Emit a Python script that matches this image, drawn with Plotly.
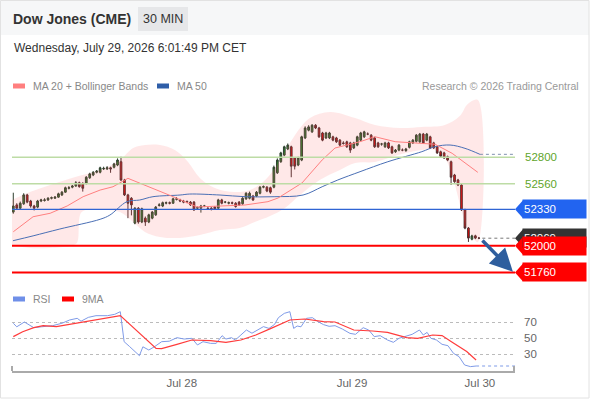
import plotly.graph_objects as go

W, H = 590, 400
def fx(p):  # pixel -> paper x
    return p / W
def fy(p):  # pixel -> paper y
    return 1 - p / H

# ---------------- data ----------------
candle_idx = list(range(1, 136))
opens = [52305,52370,52340,52380,52460,52405,52360,52350,52405,52410,
         52415,52430,52430,52440,52460,52485,52520,52530,52540,52570,
         52560,52565,52615,52640,52665,52665,52695,52695,52705,52710,
         52730,52760,52595,52460,52430,52205,52340,52215,52250,52215,
         52250,52280,52365,52360,52385,52390,52385,52420,52415,52405,
         52400,52395,52395,52340,52340,52360,52340,52340,52350,52340,
         52415,52395,52385,52390,52385,52395,52380,52425,52430,52450,
         52450,52475,52530,52530,52525,52530,52660,52760,52820,52875,
         52895,52795,52730,52775,52975,53045,53030,53090,53065,53020,
         52975,52975,52985,52975,52955,52930,52940,52930,52885,52910,
         52955,52985,53010,53000,52975,52930,52920,52895,52930,52895,
         52850,52865,52865,52860,52890,52930,52945,52940,53010,52955,
         52985,52930,52895,52850,52840,52805,52760,52640,52595,52550,
         52325,52160,52060,52090,52070]
closes = [52360,52340,52385,52460,52395,52360,52340,52405,52415,52415,
          52430,52435,52440,52470,52485,52525,52525,52540,52570,52535,
          52520,52620,52650,52665,52675,52705,52700,52705,52695,52740,
          52775,52595,52460,52385,52370,52340,52215,52335,52215,52280,
          52305,52350,52370,52390,52390,52385,52425,52425,52405,52395,
          52395,52370,52325,52345,52360,52360,52335,52330,52335,52415,
          52385,52395,52390,52385,52355,52370,52430,52475,52475,52415,
          52485,52530,52535,52495,52485,52710,52775,52840,52895,52910,
          52720,52720,52795,52985,53065,53075,53090,53065,52985,52955,
          53020,53020,52955,52940,52910,52925,52895,52865,52930,52985,
          53020,53030,53010,52955,52895,52895,52920,52930,52885,52840,
          52865,52910,52865,52875,52940,52955,53000,53010,52930,53010,
          52885,52885,52840,52810,52795,52775,52620,52580,52550,52325,
          52160,52070,52090,52070,52069]
highs = [52480,52385,52400,52475,52470,52415,52370,52415,52425,52430,
         52440,52445,52450,52480,52495,52535,52540,52550,52585,52580,
         52575,52630,52660,52675,52685,52715,52715,52720,52715,52750,
         52790,52805,52605,52470,52440,52350,52350,52345,52265,52290,
         52315,52360,52385,52400,52400,52400,52435,52440,52425,52415,
         52410,52405,52405,52355,52370,52370,52350,52350,52360,52425,
         52425,52405,52400,52400,52395,52405,52440,52485,52490,52460,
         52495,52540,52545,52540,52535,52725,52790,52850,52905,52925,
         52905,52800,52805,52995,53080,53090,53100,53100,53075,53030,
         53030,53030,52995,52985,52965,52945,52950,52940,52940,52995,
         53030,53040,53025,53010,52985,52940,52930,52940,52940,52905,
         52875,52920,52880,52885,52950,52965,53010,53020,53020,53020,
         52995,52940,52905,52860,52850,52815,52770,52650,52605,52560,
         52335,52170,52100,52100,52080]
lows = [52290,52325,52330,52370,52385,52345,52320,52340,52395,52400,
        52405,52420,52425,52435,52450,52480,52510,52520,52535,52525,
        52490,52555,52605,52630,52655,52655,52685,52685,52660,52700,
        52720,52585,52450,52250,52275,52195,52200,52205,52180,52205,
        52240,52270,52355,52350,52375,52375,52380,52410,52395,52385,
        52385,52360,52315,52330,52300,52350,52325,52320,52325,52330,
        52375,52385,52375,52375,52345,52360,52370,52415,52420,52405,
        52440,52465,52520,52485,52470,52520,52650,52750,52810,52865,
        52620,52690,52720,52765,52965,53035,53020,53055,52975,52945,
        52965,52965,52945,52930,52900,52915,52885,52840,52875,52900,
        52945,52975,53000,52945,52885,52885,52905,52885,52875,52830,
        52840,52855,52855,52850,52880,52920,52935,52930,52920,52945,
        52875,52875,52830,52800,52785,52765,52550,52570,52540,52315,
        52150,52035,52050,52060,52060]

ma20_idx = [1, 6.7, 11.6, 16.5, 21.1, 26.0, 29.7, 34.0, 47.0, 53.9, 67.7, 74.3, 77.2,
            84.1, 89.9, 93.6, 100.8, 105.1, 110.9, 118.6, 122.4, 127.3, 131.0, 134.7]
ma20_val = [52127, 52263, 52294, 52360, 52444, 52504, 52534, 52610, 52444, 52351, 52369,
            52399, 52432, 52568, 52776, 52884, 52941, 52986, 52941, 52927, 52918, 52836,
            52746, 52664]

ma50_idx = [0.9, 6.7, 14.4, 26.0, 28.8, 33.7, 37.4, 41.2, 49.0, 51.8, 60.5, 67.7, 76.3,
            84.4, 89.9, 94.4, 100.8, 108.8, 118.6, 122.4, 126.7, 131.0, 135.3]
ma50_val = [52046, 52090, 52152, 52240, 52278, 52399, 52414, 52444, 52459, 52468, 52459,
            52444, 52444, 52459, 52534, 52595, 52670, 52760, 52851, 52896, 52911, 52881,
            52827]

bb_up_idx = [0.6, 5.8, 11.6, 18.8, 26.0, 31.7, 35.5, 38.9, 43.2, 47.5, 51.3, 54.7, 59.0,
             64.8, 69.1, 73.5, 77.8, 82.1, 86.4, 92.2, 99.4, 105.1, 112.3, 118.6, 125.2,
             129.5, 131.8, 134.7]
bb_up_val = [52414, 52486, 52550, 52622, 52685, 52776, 52884, 52911, 52911, 52866, 52758,
             52613, 52523, 52486, 52504, 52595, 52776, 53002, 53155, 53210, 53155, 53092,
             53065, 53074, 53092, 53173, 53282, 53318]
bb_lo_idx = [0.6, 5.8, 11.6, 17.3, 19.3, 20.7, 26.0, 31.7, 35.5, 38.9, 43.2, 49.0, 54.7,
             60.5, 66.2, 70.5, 74.9, 79.2, 83.5, 89.2, 95.0, 99.4, 105.1, 111.7, 118.6,
             122.4, 125.2, 127.3, 131.0, 133.0, 134.7]
bb_lo_val = [52007, 51980, 51980, 51998, 52025, 52306, 52324, 52306, 52215, 52125, 52080,
             52071, 52098, 52143, 52161, 52215, 52269, 52342, 52459, 52595, 52685, 52749,
             52758, 52821, 52866, 52866, 52794, 52640, 52215, 52089, 52034]

rsi_idx = [1.0, 2.0, 4.2, 6.9, 9.1, 12.3, 15.0, 17.2, 19.4, 20.5, 22.6, 24.8, 28.1, 30.2,
           31.8, 32.9, 34.5, 37.3, 38.3, 40.0, 41.6, 43.7, 45.9, 48.1, 50.2, 52.4, 54.0,
           55.6, 57.8, 59.4, 61.1, 62.2, 63.8, 64.9, 66.5, 68.1, 69.7, 71.4, 73.0, 74.6,
           76.2, 77.3, 79.0, 80.6, 81.7, 82.7, 83.8, 85.4, 87.1, 88.7, 90.3, 91.9, 93.6,
           95.7, 97.9, 99.5, 101.7, 103.3, 104.9, 106.6, 108.7, 110.4, 112.0, 113.6,
           115.8, 117.9, 119.0, 120.1, 121.2, 122.8, 124.4, 126.1, 127.7, 129.3, 130.9,
           132.6, 134.2]
rsi_val = [68.4, 64, 70, 62.9, 64, 65.4, 68.4, 72.5, 74.6, 71, 75.8, 77.9, 77.9, 79.6,
           82.9, 45.4, 39.2, 27.9, 39, 35, 39, 45.4, 46, 50.4, 48.7, 49.6, 41.3, 45.4,
           43.3, 43.3, 52.9, 48.7, 50.4, 47.5, 53.75, 60, 56, 60, 64.2, 62, 67, 75.4,
           80.8, 82.9, 62, 65, 64, 74.6, 75.4, 70.4, 66.7, 64.6, 65.4, 61.25, 55.8, 54.6,
           62.9, 60, 51.7, 52.9, 47.5, 44.6, 49.6, 51.7, 54.6, 60, 53.75, 57, 49.6, 47.5,
           42.1, 40.4, 30.8, 26.7, 16.25, 14.2, 15]
ma9_idx = [1.0, 3.7, 6.9, 9.6, 13.4, 18.8, 24.3, 28.6, 31.8, 42.1, 43.7, 48.1, 52.4, 57.8,
           62.2, 66.5, 70.8, 75.2, 80.6, 84.9, 90.3, 93.6, 99.0, 104.4, 108.7, 114.2,
           117.4, 121.7, 124.4, 127.1, 131.5, 134.2]
ma9_val = [51.7, 57.9, 62.9, 65.4, 64.2, 68.4, 72.5, 75.4, 77.9, 37.1, 36.7, 42.1, 47.5,
           46.7, 44.6, 47.5, 53.75, 62, 72.5, 73.75, 70.4, 70, 60, 58.75, 57.1, 50.4, 49.6,
           53.75, 53, 45.4, 33, 22.5]

res_levels = [52800, 52560]
pivot_level = 52330
sup_levels = [52000, 51760]
last_price = 52069
target_price = 51766
rsi_levels = [30, 50, 70]
tick_pos = [49.5, 98.5, 135.3]
tick_labels = ["Jul 28", "Jul 29", "Jul 30"]

X_RANGE = [0.63, 145.4]
Y_RANGE = [51664, 53345]
RSI_RANGE = [8.75, 91.25]

FONT = "Liberation Sans, Arial, sans-serif"

fig = go.Figure()

# Bollinger band
fig.add_trace(go.Scatter(
    x=bb_up_idx + bb_lo_idx[::-1], y=bb_up_val + bb_lo_val[::-1],
    fill="toself", fillcolor="rgba(255,90,90,0.14)", line=dict(width=0, shape="spline"),
    mode="lines", hoverinfo="skip", xaxis="x", yaxis="y"))
fig.add_trace(go.Scatter(x=ma50_idx, y=ma50_val, mode="lines",
                         line=dict(color="#4a6fb5", width=1, shape="spline"),
                         hoverinfo="skip", xaxis="x", yaxis="y"))
fig.add_trace(go.Scatter(x=ma20_idx, y=ma20_val, mode="lines",
                         line=dict(color="#ff8080", width=1),
                         hoverinfo="skip", xaxis="x", yaxis="y"))
fig.add_trace(go.Candlestick(
    x=candle_idx, open=opens, high=highs, low=lows, close=closes,
    increasing=dict(fillcolor="#2e8b2e", line=dict(color="#2f3f2f", width=1)),
    decreasing=dict(fillcolor="#e60000", line=dict(color="#4a3030", width=1)),
    whiskerwidth=0, hoverinfo="skip", xaxis="x", yaxis="y"))

# RSI panel
fig.add_trace(go.Scatter(x=rsi_idx, y=rsi_val, mode="lines",
                         line=dict(color="#7f9be8", width=1),
                         hoverinfo="skip", xaxis="x2", yaxis="y2"))
fig.add_trace(go.Scatter(x=ma9_idx, y=ma9_val, mode="lines",
                         line=dict(color="#ff3b3b", width=1.2),
                         hoverinfo="skip", xaxis="x2", yaxis="y2"))

shapes = []
ann = []

# header band + outer border
shapes.append(dict(type="rect", xref="paper", yref="paper", x0=0, x1=fx(589),
                   y0=fy(35), y1=1, fillcolor="#f6f7f8", line=dict(width=0), layer="below"))
shapes.append(dict(type="rect", xref="paper", yref="paper", x0=fx(0.5), x1=fx(589),
                   y0=fy(398), y1=fy(0.5), line=dict(color="#e2e2e2", width=1)))

# level lines
for lv in res_levels:
    shapes.append(dict(type="line", xref="paper", yref="y", x0=fx(12), x1=fx(515),
                       y0=lv, y1=lv, line=dict(color="#bddca5", width=1.5)))
shapes.append(dict(type="line", xref="paper", yref="y", x0=fx(12), x1=fx(515),
                   y0=pivot_level, y1=pivot_level, line=dict(color="#2f64d4", width=1.3)))
for lv in sup_levels:
    shapes.append(dict(type="line", xref="paper", yref="y", x0=fx(12), x1=fx(515),
                       y0=lv, y1=lv, line=dict(color="#ff0000", width=2)))

# dotted extensions
shapes.append(dict(type="line", xref="x", yref="y", x0=candle_idx[-1] + 1, x1=X_RANGE[1],
                   y0=last_price, y1=last_price, line=dict(color="#777", width=1, dash="dot")))
shapes.append(dict(type="line", xref="x", yref="y", x0=ma50_idx[-1], x1=X_RANGE[1],
                   y0=ma50_val[-1], y1=ma50_val[-1], line=dict(color="#8090b0", width=1, dash="dot")))
shapes.append(dict(type="line", xref="x2", yref="y2", x0=rsi_idx[-1], x1=X_RANGE[1],
                   y0=rsi_val[-1], y1=rsi_val[-1], line=dict(color="#7f9be8", width=1, dash="dot")))

# x axis end caps
for px in (12, 514):
    shapes.append(dict(type="line", xref="paper", yref="paper", x0=fx(px), x1=fx(px),
                       y0=fy(371), y1=fy(366), line=dict(color="#aaa", width=2)))

# green labels
for lv in res_levels:
    ann.append(dict(xref="paper", yref="y", x=fx(523), y=lv, text=str(lv), showarrow=False,
                    xanchor="left", yanchor="middle",
                    font=dict(family=FONT, size=11.5, color="#5fa52c")))

def box_label(level, color):
    shapes.append(dict(type="path", xref="paper", yref="y", xsizemode="pixel",
                       ysizemode="pixel", xanchor=fx(515), yanchor=level,
                       path="M0,0 L8,9 L8,-9 Z", fillcolor=color, line=dict(width=0)))
    ann.append(dict(xref="paper", yref="y", x=fx(522), y=level, text=str(level),
                    showarrow=False, xanchor="left", yanchor="middle", align="left",
                    width=61, height=16, borderpad=1, bgcolor=color,
                    font=dict(family=FONT, size=11.5, color="white")))

box_label(pivot_level, "#2264f0")
box_label(last_price, "#333333")
for lv in sup_levels:
    box_label(lv, "#ff0000")

# target arrow
ann.append(dict(xref="x", yref="y", axref="x", ayref="y",
                x=144.8, y=target_price, ax=135.6, ay=52061, text="", showarrow=True,
                arrowhead=2, arrowsize=1.3, arrowwidth=3.5, arrowcolor="#2e5e9e", standoff=0))

# header
ann.append(dict(xref="paper", yref="paper", x=fx(11), y=fy(19), text="<b>Dow Jones (CME)</b>",
                showarrow=False, xanchor="left", yanchor="middle",
                font=dict(family=FONT, size=14, color="#333")))
shapes.append(dict(type="rect", xref="paper", yref="paper", x0=fx(138), x1=fx(188),
                   y0=fy(31), y1=fy(7), fillcolor="#e6e7e9", line=dict(width=0)))
ann.append(dict(xref="paper", yref="paper", x=fx(163), y=fy(19), text="30 MIN",
                showarrow=False, xanchor="center", yanchor="middle",
                font=dict(family=FONT, size=12.5, color="#333")))
ann.append(dict(xref="paper", yref="paper", x=fx(12), y=fy(48),
                text="Wednesday, July 29, 2026 6:01:49 PM CET",
                showarrow=False, xanchor="left", yanchor="middle",
                font=dict(family=FONT, size=12, color="#333")))

# legends
def legend_item(px0, py, color, label):
    shapes.append(dict(type="rect", xref="paper", yref="paper", x0=fx(px0), x1=fx(px0 + 12),
                       y0=fy(py + 2.5), y1=fy(py - 2.5), fillcolor=color, line=dict(width=0)))
    ann.append(dict(xref="paper", yref="paper", x=fx(px0 + 18), y=fy(py), text=label,
                    showarrow=False, xanchor="left", yanchor="middle",
                    font=dict(family=FONT, size=10.5, color="#888")))

legend_item(13, 86, "#ff7f7f", "MA 20 + Bollinger Bands")
legend_item(157, 86, "#2f5ea8", "MA 50")
legend_item(13, 299, "#6f8fe8", "RSI")
legend_item(62, 299, "#ff0000", "9MA")
ann.append(dict(xref="paper", yref="paper", x=fx(581), y=fy(86),
                text="Research © 2026 Trading Central", showarrow=False,
                xanchor="right", yanchor="middle", font=dict(family=FONT, size=10.5, color="#999")))

fig.update_layout(
    width=W, height=H, margin=dict(l=0, r=0, t=0, b=0),
    paper_bgcolor="white", plot_bgcolor="rgba(0,0,0,0)", showlegend=False,
    font=dict(family=FONT),
    xaxis=dict(domain=[fx(12), fx(515)], range=X_RANGE, visible=False,
               rangeslider=dict(visible=False), anchor="y"),
    yaxis=dict(domain=[fy(283), fy(97)], range=Y_RANGE, visible=False, anchor="x"),
    xaxis2=dict(domain=[fx(12), fx(515)], range=X_RANGE, anchor="y2", matches="x",
                showline=True, linecolor="#aaa", linewidth=2, showgrid=False, zeroline=False,
                tickmode="array", tickvals=tick_pos, ticktext=tick_labels, ticks="",
                tickfont=dict(family=FONT, size=11.5, color="#666")),
    yaxis2=dict(domain=[fy(371), fy(305)], range=RSI_RANGE, anchor="x2", side="right",
                tickmode="array", tickvals=rsi_levels, ticks="", showline=False,
                showgrid=True, gridcolor="#bbbbbb", griddash="dot", gridwidth=1,
                zeroline=False, ticklabelstandoff=8,
                tickfont=dict(family=FONT, size=11.5, color="#666")),
    shapes=shapes, annotations=ann,
)

fig.write_html("out.html", config={"displayModeBar": False},
               post_script="document.body.style.margin='0';document.body.style.padding='0';")
